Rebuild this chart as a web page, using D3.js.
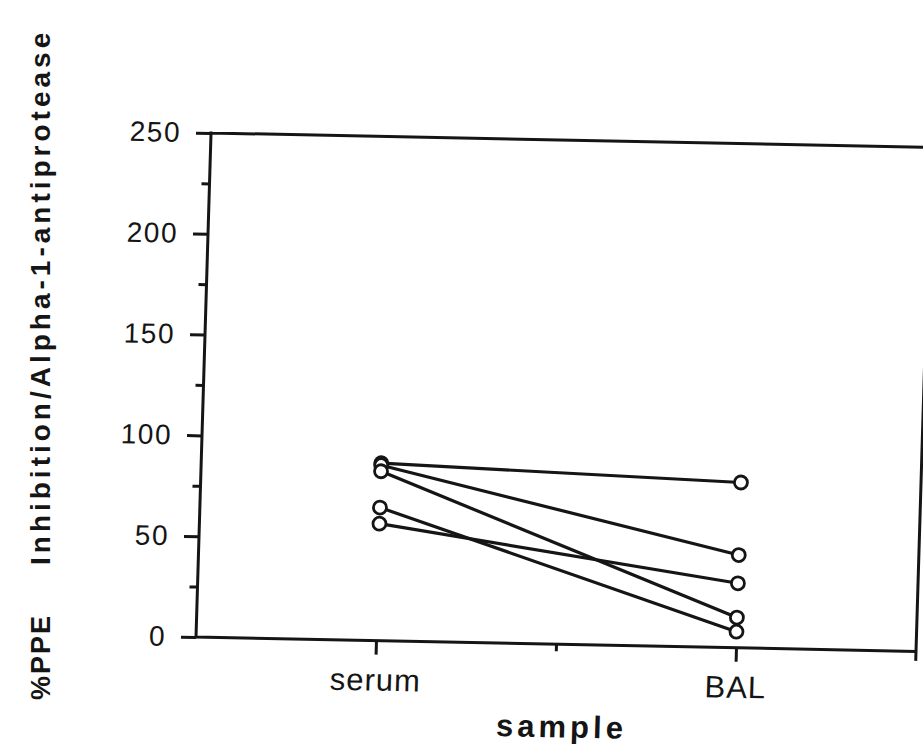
<!DOCTYPE html>
<html>
<head>
<meta charset="utf-8">
<script src="https://cdn.jsdelivr.net/npm/d3@7"></script>
<style>
  body { margin: 0; background: #fff; }
  svg { display: block; font-family: "Liberation Sans", Arial, Helvetica, sans-serif; }
</style>
</head>
<body>
<div id="chart"></div>
<script>
// データ
const categories = ['serum', 'BAL'];
const serumValues = [88, 87, 84, 66, 58];
const balValues = [82, 46, 15, 8, 32];
const yMajorTicks = [0, 50, 100, 150, 200, 250];
const yMinorTicks = [25, 75, 125, 175, 225];
const xCategoryTicks = [1, 3];
const xMinorTicks = [2];

const svgWidth = 923;
const svgHeight = 747;
const W = 720;
const H = 504;
const ink = '#151515';

const svg = d3.select('#chart')
  .append('svg')
  .attr('width', svgWidth)
  .attr('height', svgHeight);

// スキャンのわずかな傾きを再現する
const g = svg.append('g')
  .attr('transform', `translate(196,637) matrix(1,0.02,-0.0298,1,0,0) translate(0,${-H})`);

const x = d3.scaleLinear().domain([0, 4]).range([0, W]);
const y = d3.scaleLinear().domain([0, 250]).range([H, 0]);

// y軸（主目盛り）
const yAxis = g.append('g')
  .call(d3.axisLeft(y)
    .tickValues(yMajorTicks)
    .tickSize(15)
    .tickPadding(15)
    .tickFormat(d3.format('d')));
// y軸（補助目盛り）
const yMinor = g.append('g')
  .call(d3.axisLeft(y)
    .tickValues(yMinorTicks)
    .tickSize(8)
    .tickFormat(''));

// x軸
const xAxis = g.append('g')
  .attr('transform', `translate(0,${H})`)
  .call(d3.axisBottom(x)
    .tickValues(xCategoryTicks)
    .tickSize(14)
    .tickPadding(14)
    .tickFormat(d => categories[(d - 1) / 2]));
const xMinor = g.append('g')
  .attr('transform', `translate(0,${H})`)
  .call(d3.axisBottom(x)
    .tickValues(xMinorTicks)
    .tickSize(7)
    .tickFormat(''));

[yAxis, yMinor, xAxis, xMinor].forEach(a => {
  a.select('.domain').remove();
  a.selectAll('line').attr('stroke', ink).attr('stroke-width', 3);
});
yAxis.selectAll('text')
  .attr('fill', ink)
  .attr('font-size', 28)
  .attr('letter-spacing', 1.5);
xAxis.selectAll('text')
  .attr('fill', ink)
  .attr('font-size', 31)
  .attr('letter-spacing', 1);

// 枠
const frame = d3.path();
frame.moveTo(x(0), y(0)); frame.lineTo(x(0), y(250));
frame.moveTo(x(0), y(250)); frame.lineTo(x(4), y(250));
frame.moveTo(x(0), y(0)); frame.lineTo(x(4), y(0));
frame.moveTo(x(4), y(250)); frame.lineTo(x(4), y(0) + 8);
g.append('path')
  .attr('d', frame.toString())
  .attr('fill', 'none')
  .attr('stroke', ink)
  .attr('stroke-width', 3)
  .attr('stroke-linecap', 'square');

// 個別の線
const pairs = serumValues.map((s, i) => ({ serum: s, bal: balValues[i] }));
g.append('g')
  .selectAll('line')
  .data(pairs)
  .enter()
  .append('line')
  .attr('x1', x(1))
  .attr('y1', d => y(d.serum))
  .attr('x2', x(3))
  .attr('y2', d => y(d.bal))
  .attr('stroke', ink)
  .attr('stroke-width', 3.2);

const points = [];
pairs.forEach(d => {
  points.push({ cx: 1, v: d.serum });
  points.push({ cx: 3, v: d.bal });
});
g.append('g')
  .selectAll('circle')
  .data(points)
  .enter()
  .append('circle')
  .attr('cx', d => x(d.cx))
  .attr('cy', d => y(d.v))
  .attr('r', 6.5)
  .attr('fill', '#fff')
  .attr('stroke', ink)
  .attr('stroke-width', 2.8);

// x軸タイトル
g.append('text')
  .attr('x', x(2) + 8)
  .attr('y', H + 93)
  .attr('text-anchor', 'middle')
  .attr('font-size', 31)
  .attr('font-weight', 'bold')
  .attr('letter-spacing', 4)
  .attr('fill', ink)
  .text('sample');

// y軸タイトル
svg.append('text')
  .attr('transform', 'translate(50,700) rotate(-90)')
  .attr('font-size', 27)
  .attr('font-weight', 'bold')
  .attr('letter-spacing', 2)
  .attr('fill', ink)
  .text('%PPE');
svg.append('text')
  .attr('transform', 'translate(50,565) rotate(-90)')
  .attr('font-size', 28)
  .attr('font-weight', 'bold')
  .attr('letter-spacing', 4)
  .attr('fill', ink)
  .text('Inhibition/Alpha-1-antiprotease');
</script>
</body>
</html>
